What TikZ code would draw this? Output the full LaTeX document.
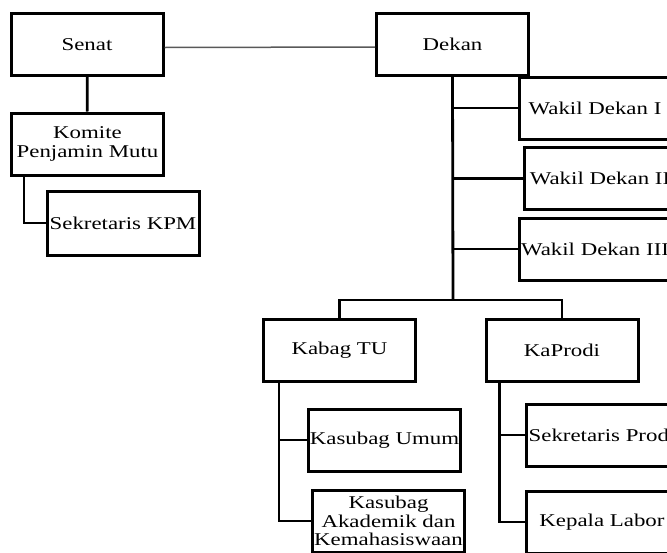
\documentclass[tikz,border=0pt]{standalone}
\usepackage{fontspec}
\setmainfont[FakeStretch=1.27]{Liberation Serif}
\begin{document}
\begin{tikzpicture}[x=1pt,y=-1pt,
  jabatan/.style={draw,line width=3pt,minimum width=152pt,minimum height=62pt,
    inner sep=0pt,align=center,font=\fontsize{18}{18.5}\selectfont},
  garis/.style={line width=2.8pt}]
\clip (0,0) rectangle (667,552);
\node[jabatan] (senat) at (87,44.5) {Senat};
\node[jabatan] (komite) at (87.5,144) {Komite\\Penjamin Mutu};
\node[jabatan,minimum height=64pt] (sekkpm) at (123,223) {Sekretaris KPM};
\node[jabatan] (dekan) at (452.5,44) {Dekan};
\node[jabatan] (wd1) at (595,108) {Wakil Dekan I};
\node[jabatan] (wd2) at (600,178.5) {Wakil Dekan II};
\node[jabatan] (wd3) at (595,249) {Wakil Dekan III};
\node[jabatan] (kabag) at (339.5,350) {Kabag TU};
\node[jabatan] (kaprodi) at (562,350) {KaProdi};
\node[jabatan] (kasumum) at (384.5,440) {Kasubag Umum};
\node[jabatan] (kasakad) at (388.5,521) {Kasubag\\Akademik dan\\Kemahasiswaan};
\node[jabatan] (sekprodi) at (602,435) {Sekretaris Prodi};
\node[jabatan] (kalabor) at (602,522) {Kepala Labor};
\coordinate (split) at (453,300);
\draw[gray!70!black,line width=1.5pt] ([yshift=-3pt]senat.east)--([yshift=-3pt]dekan.west);
\draw[garis] (senat)--(komite);
\draw[garis] ([xshift=14pt]komite.south west) |- (sekkpm.west);
\draw[garis] (dekan.south)--(split);
\foreach \w in {wd1,wd2,wd3}
  \draw[garis] (dekan.south |- \w.west)--(\w.west);
\draw[garis] (kabag.north) |- (split) -| (kaprodi.north);
\draw[garis] ([xshift=17pt]kabag.south west) |- (kasumum.west);
\draw[garis] ([xshift=17pt]kabag.south west) |- (kasakad.west);
\draw[garis] ([xshift=15pt]kaprodi.south west) |- (sekprodi.west);
\draw[garis] ([xshift=15pt]kaprodi.south west) |- (kalabor.west);
\end{tikzpicture}
\end{document}
